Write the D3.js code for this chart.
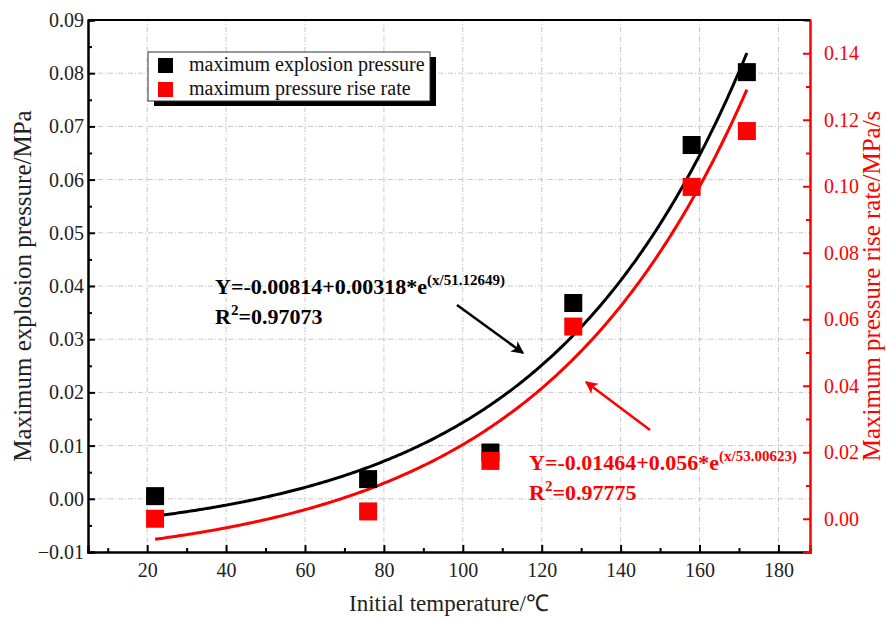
<!DOCTYPE html>
<html>
<head>
<meta charset="utf-8">
<script src="https://cdn.jsdelivr.net/npm/d3@7"></script>
<style>
  body { margin: 0; background: #fff; }
  svg text { font-family: "Liberation Serif", "Times New Roman", serif; }
</style>
</head>
<body>
<div id="chart"></div>
<script>
// Data
const temps = [22, 76, 107, 128, 158, 172];
const explosionPressure = [0.0005, 0.0037, 0.0087, 0.0368, 0.0665, 0.0802];
const riseRate = [0.0000, 0.0022, 0.0174, 0.0578, 0.0998, 0.1166];

// Fit parameters shown on the chart (y0 + A*exp(x/t))
const fitBlack = { y0: -0.00814, a: 0.00318, t: 51.12649 };
const fitRed = { y0: -0.01464, a: 0.0056, t: 53.00623 };

const xTicks = [20, 40, 60, 80, 100, 120, 140, 160, 180];
const leftTicks = [-0.01, 0, 0.01, 0.02, 0.03, 0.04, 0.05, 0.06, 0.07, 0.08, 0.09];
const rightTicks = [0, 0.02, 0.04, 0.06, 0.08, 0.10, 0.12, 0.14];

const width = 886;
const height = 618;
const margin = { top: 20, right: 76, bottom: 66, left: 88 };
const serif = '"Liberation Serif", "Times New Roman", serif';

const svg = d3.select('#chart')
  .append('svg')
  .attr('width', width)
  .attr('height', height);

const x = d3.scaleLinear()
  .domain([5, 188])
  .range([margin.left, width - margin.right]);

const yL = d3.scaleLinear()
  .domain([-0.01, 0.09])
  .range([height - margin.bottom, margin.top]);

const yR = d3.scaleLinear()
  .domain([-0.01, 0.15])
  .range([height - margin.bottom, margin.top]);

const x0 = margin.left, x1 = width - margin.right;
const y0 = height - margin.bottom, y1 = margin.top;

// Grid lines (dash-dot)
const grid = svg.append('g')
  .attr('stroke', '#c8c8c8')
  .attr('stroke-width', 1)
  .attr('stroke-dasharray', '5,2,1,2');

grid.selectAll('line.h')
  .data(leftTicks.filter(d => d > -0.01 && d < 0.09))
  .enter()
  .append('line')
  .attr('x1', x0).attr('x2', x1)
  .attr('y1', d => yL(d)).attr('y2', d => yL(d));

grid.selectAll('line.v')
  .data(xTicks)
  .enter()
  .append('line')
  .attr('x1', d => x(d)).attr('x2', d => x(d))
  .attr('y1', y0).attr('y2', y1);

// Fit curves
const curveX = d3.range(22, 172.01, 0.5);

const lineBlack = d3.line()
  .x(d => x(d))
  .y(d => yL(fitBlack.y0 + fitBlack.a * Math.exp(d / fitBlack.t)));

const lineRed = d3.line()
  .x(d => x(d))
  .y(d => yR(fitRed.y0 + fitRed.a * Math.exp(d / fitRed.t)));

svg.append('path')
  .datum(curveX)
  .attr('d', lineBlack)
  .attr('fill', 'none')
  .attr('stroke', '#000')
  .attr('stroke-width', 3);

svg.append('path')
  .datum(curveX)
  .attr('d', lineRed)
  .attr('fill', 'none')
  .attr('stroke', '#ff0000')
  .attr('stroke-width', 3);

// Markers
const size = 18;

svg.selectAll('rect.black')
  .data(temps)
  .enter()
  .append('rect')
  .attr('x', d => x(d) - size / 2)
  .attr('y', (d, i) => yL(explosionPressure[i]) - size / 2)
  .attr('width', size)
  .attr('height', size)
  .attr('fill', '#000');

svg.selectAll('rect.red')
  .data(temps)
  .enter()
  .append('rect')
  .attr('x', d => x(d) - size / 2)
  .attr('y', (d, i) => yR(riseRate[i]) - size / 2)
  .attr('width', size)
  .attr('height', size)
  .attr('fill', '#ff0000');

// Axes (ticks point inward)
svg.append('g')
  .attr('transform', `translate(0,${y0})`)
  .call(d3.axisBottom(x).tickValues(xTicks).tickSize(-7).tickPadding(11).tickFormat(d3.format('d')));

svg.append('g')
  .attr('transform', `translate(0,${y0})`)
  .call(d3.axisBottom(x).tickValues(d3.range(10, 181, 20)).tickSize(-4).tickFormat(''));

svg.append('g')
  .attr('transform', `translate(${x0},0)`)
  .call(d3.axisLeft(yL).tickValues(leftTicks).tickSize(-7).tickPadding(4).tickFormat(d3.format('.2f')));

svg.append('g')
  .attr('transform', `translate(${x0},0)`)
  .call(d3.axisLeft(yL).tickValues(d3.range(-0.005, 0.09, 0.01)).tickSize(-4).tickFormat(''));

svg.append('g')
  .attr('class', 'right')
  .attr('transform', `translate(${x1},0)`)
  .call(d3.axisRight(yR).tickValues(rightTicks).tickSize(-7).tickPadding(14).tickFormat(d3.format('.2f')));

svg.append('g')
  .attr('class', 'right')
  .attr('transform', `translate(${x1},0)`)
  .call(d3.axisRight(yR).tickValues(d3.range(-0.01, 0.15, 0.02)).tickSize(-4).tickFormat(''));

// Top border
svg.append('line')
  .attr('x1', x0).attr('x2', x1)
  .attr('y1', y1).attr('y2', y1)
  .attr('stroke', '#000')
  .attr('stroke-width', 2);

svg.selectAll('.domain').attr('stroke-width', 2);
svg.selectAll('.tick line').attr('stroke-width', 2);
svg.selectAll('g').attr('font-family', serif);
svg.selectAll('.tick text')
  .attr('font-family', serif)
  .attr('font-size', 20)
  .attr('fill', '#222');

svg.selectAll('g.right .domain').attr('stroke', '#ff0000');
svg.selectAll('g.right .tick line').attr('stroke', '#ff0000');
svg.selectAll('g.right .tick text').attr('fill', '#ff0000');

// Axis titles
svg.append('text')
  .attr('x', (x0 + x1) / 2)
  .attr('y', 611)
  .attr('text-anchor', 'middle')
  .attr('font-family', serif)
  .attr('font-size', 23)
  .attr('fill', '#222')
  .text('Initial temperature/℃');

svg.append('text')
  .attr('transform', `translate(31,${(y0 + y1) / 2}) rotate(-90)`)
  .attr('text-anchor', 'middle')
  .attr('font-family', serif)
  .attr('font-size', 25)
  .attr('fill', '#222')
  .text('Maximum explosion pressure/MPa');

svg.append('text')
  .attr('transform', `translate(880,${(y0 + y1) / 2}) rotate(-90)`)
  .attr('text-anchor', 'middle')
  .attr('font-family', serif)
  .attr('font-size', 25)
  .attr('fill', '#ff0000')
  .text('Maximum pressure rise rate/MPa/s');

// Legend with drop shadow
const legend = svg.append('g');
legend.append('rect')
  .attr('x', 154).attr('y', 57)
  .attr('width', 282).attr('height', 49)
  .attr('fill', '#000');
legend.append('rect')
  .attr('x', 148).attr('y', 52)
  .attr('width', 282).attr('height', 49)
  .attr('fill', '#fff')
  .attr('stroke', '#333')
  .attr('stroke-width', 1);

const legendItems = [
  { label: 'maximum explosion pressure', color: '#000' },
  { label: 'maximum pressure rise rate', color: '#ff0000' }
];

legendItems.forEach((d, i) => {
  legend.append('rect')
    .attr('x', 158).attr('y', 58 + i * 24)
    .attr('width', 15).attr('height', 15)
    .attr('fill', d.color);
  legend.append('text')
    .attr('x', 189).attr('y', 71 + i * 24)
    .attr('font-family', serif)
    .attr('font-size', 20)
    .attr('fill', '#111')
    .text(d.label);
});

// Fit annotations
function fitLabel(xPos, yPos, color, eq, sup, r2) {
  const t1 = svg.append('text')
    .attr('x', xPos).attr('y', yPos)
    .attr('font-family', serif)
    .attr('font-size', 22)
    .attr('font-weight', 'bold')
    .attr('fill', color);
  t1.append('tspan').text(eq);
  t1.append('tspan').attr('font-size', 15).attr('dy', -9).text(sup);

  const t2 = svg.append('text')
    .attr('x', xPos).attr('y', yPos + 30)
    .attr('font-family', serif)
    .attr('font-size', 22)
    .attr('font-weight', 'bold')
    .attr('fill', color);
  t2.append('tspan').text('R');
  t2.append('tspan').attr('font-size', 15).attr('dy', -9).text('2');
  t2.append('tspan').attr('dy', 9).text('=' + r2);
}

fitLabel(215, 294, '#000', 'Y=-0.00814+0.00318*e', '(x/51.12649)', '0.97073');
fitLabel(529, 470, '#ff0000', 'Y=-0.01464+0.056*e', '(x/53.00623)', '0.97775');

// Arrows
const defs = svg.append('defs');
[['arrBlack', '#000'], ['arrRed', '#ff0000']].forEach(([id, c]) => {
  defs.append('marker')
    .attr('id', id)
    .attr('viewBox', '0 0 10 10')
    .attr('refX', 9).attr('refY', 5)
    .attr('markerWidth', 6).attr('markerHeight', 5)
    .attr('markerUnits', 'strokeWidth')
    .attr('orient', 'auto')
    .append('path')
    .attr('d', 'M0,0 L10,5 L0,10 L2.5,5 Z')
    .attr('fill', c);
});

svg.append('line')
  .attr('x1', 457).attr('y1', 305)
  .attr('x2', 523).attr('y2', 353)
  .attr('stroke', '#000')
  .attr('stroke-width', 2.5)
  .attr('marker-end', 'url(#arrBlack)');

svg.append('line')
  .attr('x1', 650).attr('y1', 430)
  .attr('x2', 586).attr('y2', 382)
  .attr('stroke', '#ff0000')
  .attr('stroke-width', 2.5)
  .attr('marker-end', 'url(#arrRed)');
</script>
</body>
</html>
